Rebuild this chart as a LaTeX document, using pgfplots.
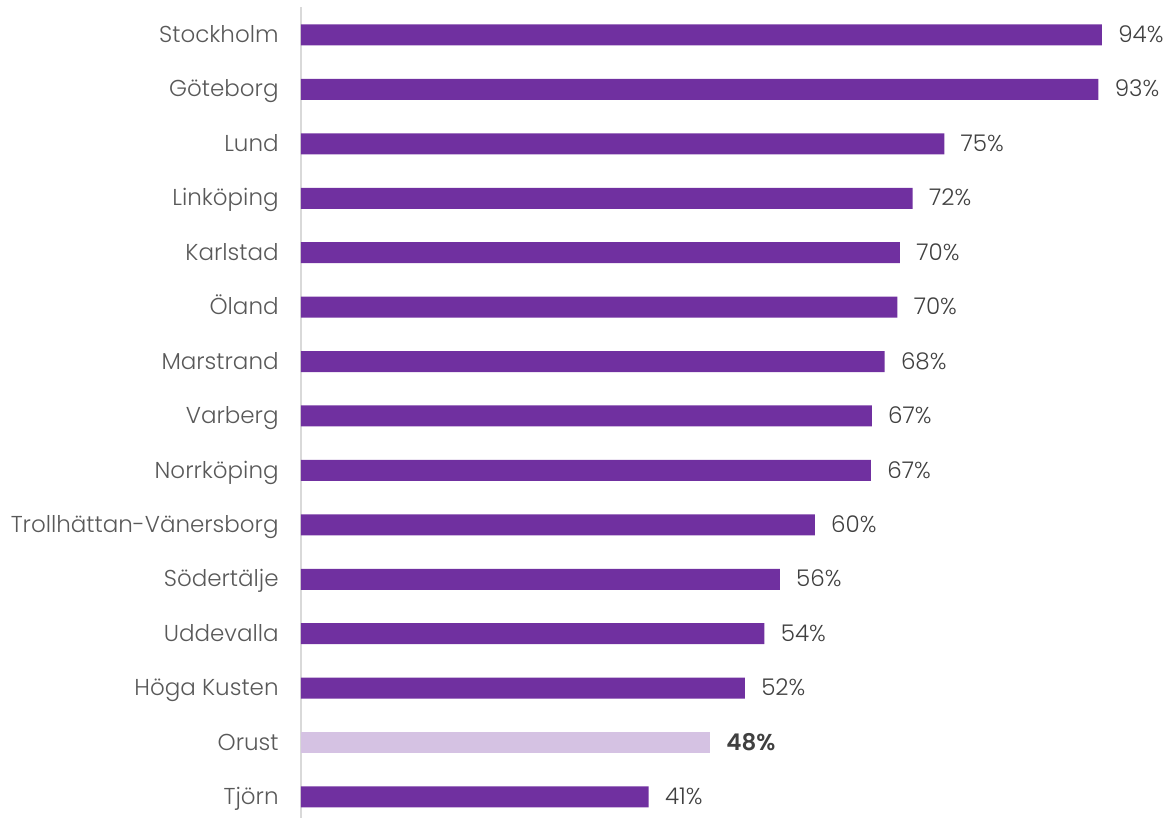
\documentclass[border=0pt]{standalone}
\usepackage{pgfplots}
\pgfplotsset{compat=1.18}
\usepackage{fontspec}
\setmainfont{Poppins}[UprightFont=* Light, BoldFont=* SemiBold]
\definecolor{barpurple}{HTML}{7030A0}
\definecolor{lightpurple}{HTML}{D5C2E3}
\definecolor{axisgray}{HTML}{D9D9D9}
\definecolor{labelgray}{HTML}{595959}
\definecolor{valgray}{HTML}{404040}
\begin{document}
\begin{tikzpicture}
\begin{axis}[
  at={(0,0)}, anchor=south west, scale only axis,
  width=426pt, height=405.5pt,
  xmin=0, xmax=100, ymin=-0.386, ymax=14.514,
  axis x line=none, axis y line*=left,
  y axis line style={draw=axisgray, line width=0.75pt, -},
  ytick={0,...,14},
  yticklabels={Tjörn,Orust,Höga Kusten,Uddevalla,Södertälje,Trollhättan-Vänersborg,Norrköping,Varberg,Marstrand,Öland,Karlstad,Linköping,Lund,Göteborg,Stockholm},
  major tick length=0pt,
  yticklabel style={font=\fontsize{11.5}{13}\selectfont, text=labelgray, inner sep=0pt, xshift=-11pt, text height=9.2pt, text depth=1.6pt},
  xbar, bar width=10.5pt, bar shift=0pt,
  nodes near coords, point meta=explicit symbolic,
  nodes near coords style={font=\fontsize{11.5}{13}\selectfont, text=valgray, anchor=west, inner sep=0pt, xshift=8pt, text height=9.2pt, text depth=1.6pt},
  clip=false,
]
\addplot[draw=none, fill=barpurple] coordinates {
  (40.8,0)[41\%] (52.1,2)[52\%] (54.4,3)[54\%] (56.2,4)[56\%] (60.3,5)[60\%]
  (66.9,6)[67\%] (67.0,7)[67\%] (68.5,8)[68\%] (70.0,9)[70\%] (70.3,10)[70\%]
  (71.8,11)[72\%] (75.5,12)[75\%] (93.6,13)[93\%] (94.0,14)[94\%]
};
\addplot[draw=none, fill=lightpurple, nodes near coords style={font=\fontsize{11.5}{13}\selectfont\bfseries}] coordinates {
  (48.0,1)[48\%]
};
\end{axis}
\pgfresetboundingbox
\useasboundingbox (-150.5pt,0pt) rectangle (433.5pt,409pt);
\end{tikzpicture}
\end{document}
